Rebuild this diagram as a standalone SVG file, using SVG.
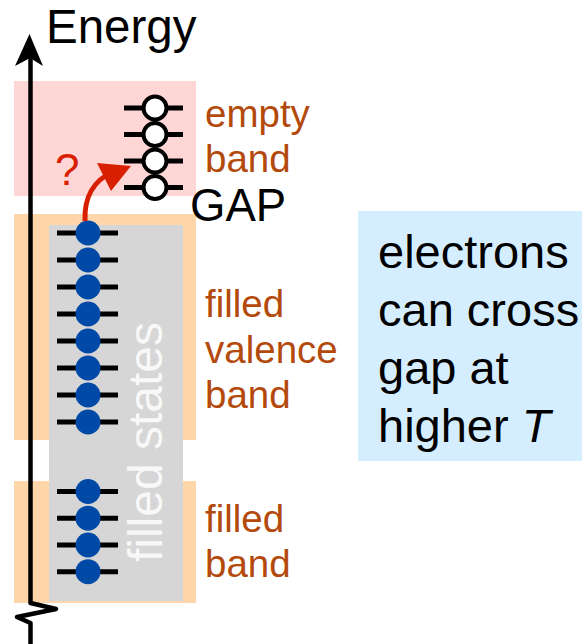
<svg xmlns="http://www.w3.org/2000/svg" width="582" height="644" viewBox="0 0 582 644">
  <defs>
    <style>
      text { font-family: "Liberation Sans", Arial, sans-serif; }
      .lbl { fill: #B34A0C; font-size: 38.5px; }
      .blk { fill: #000; font-size: 47px; }
      .lvl { stroke: #000; stroke-width: 5; }
      .fe { fill: #0049A6; }
      .ee { fill: #fff; stroke: #000; stroke-width: 4; }
    </style>
  </defs>
  <rect width="582" height="644" fill="#fff"/>

  <g id="empty-band">
    <rect x="14" y="81" width="182" height="115" fill="#FFD6D6"/>
    <g id="empty-levels">
      <line class="lvl" x1="124" y1="108" x2="183" y2="108"/>
      <line class="lvl" x1="124" y1="134.5" x2="183" y2="134.5"/>
      <line class="lvl" x1="124" y1="161" x2="183" y2="161"/>
      <line class="lvl" x1="124" y1="187.5" x2="183" y2="187.5"/>
      <circle class="ee" cx="155" cy="108" r="11.5"/>
      <circle class="ee" cx="155" cy="134.5" r="11.5"/>
      <circle class="ee" cx="155" cy="161" r="11.5"/>
      <circle class="ee" cx="155" cy="187.5" r="11.5"/>
    </g>
    <text class="lbl" x="205" y="127">empty</text>
    <text class="lbl" x="205" y="172">band</text>
  </g>

  <g id="valence-band">
    <rect x="14" y="214" width="182" height="226" fill="#FFD5AA"/>
  </g>
  <g id="lower-band">
    <rect x="14" y="481" width="182" height="122" fill="#FFD5AA"/>
  </g>

  <g id="filled-states">
    <rect x="49" y="225" width="134" height="376" fill="#D6D6D6"/>
    <text transform="translate(162,442) rotate(-90)" text-anchor="middle" font-size="48" fill="#F8F8F8">filled states</text>
  </g>

  <g id="valence-levels">
    <line class="lvl" x1="57" y1="233" x2="118" y2="233"/>
    <line class="lvl" x1="57" y1="260" x2="118" y2="260"/>
    <line class="lvl" x1="57" y1="287" x2="118" y2="287"/>
    <line class="lvl" x1="57" y1="314" x2="118" y2="314"/>
    <line class="lvl" x1="57" y1="341" x2="118" y2="341"/>
    <line class="lvl" x1="57" y1="368" x2="118" y2="368"/>
    <line class="lvl" x1="57" y1="395" x2="118" y2="395"/>
    <line class="lvl" x1="57" y1="422" x2="118" y2="422"/>
    <circle class="fe" cx="88" cy="233" r="12.5"/>
    <circle class="fe" cx="88" cy="260" r="12.5"/>
    <circle class="fe" cx="88" cy="287" r="12.5"/>
    <circle class="fe" cx="88" cy="314" r="12.5"/>
    <circle class="fe" cx="88" cy="341" r="12.5"/>
    <circle class="fe" cx="88" cy="368" r="12.5"/>
    <circle class="fe" cx="88" cy="395" r="12.5"/>
    <circle class="fe" cx="88" cy="422" r="12.5"/>
  </g>

  <g id="lower-levels">
    <line class="lvl" x1="57" y1="491.5" x2="118" y2="491.5"/>
    <line class="lvl" x1="57" y1="518.2" x2="118" y2="518.2"/>
    <line class="lvl" x1="57" y1="545" x2="118" y2="545"/>
    <line class="lvl" x1="57" y1="571.7" x2="118" y2="571.7"/>
    <circle class="fe" cx="88" cy="491.5" r="12.5"/>
    <circle class="fe" cx="88" cy="518.2" r="12.5"/>
    <circle class="fe" cx="88" cy="545" r="12.5"/>
    <circle class="fe" cx="88" cy="571.7" r="12.5"/>
  </g>

  <g id="labels">
    <text class="lbl" x="205" y="317">filled</text>
    <text class="lbl" x="205" y="363">valence</text>
    <text class="lbl" x="205" y="408">band</text>
    <text class="lbl" x="205" y="532">filled</text>
    <text class="lbl" x="205" y="577">band</text>
    <text class="blk" x="190" y="221" font-size="45" style="font-size:45.5px">GAP</text>
  </g>

  <g id="energy-axis">
    <polyline points="30.5,58 30.5,603 56,609 17,617 30.5,623 30.5,644" fill="none" stroke="#000" stroke-width="4.5" stroke-linejoin="round"/>
    <polygon points="29.5,34 43,66 30,58 15,66" fill="#000"/>
    <text class="blk" x="46" y="43" style="font-size:47.5px">Energy</text>
  </g>

  <g id="connectors">
    <path d="M85,221 C84,197 94,180 113,172" fill="none" stroke="#D82000" stroke-width="5"/>
    <polygon points="131,166 97,163 111,191" fill="#D82000"/>
    <text x="55" y="185" font-size="44" fill="#D82000">?</text>
  </g>

  <g id="note">
    <rect x="358" y="211" width="224" height="250" fill="#D5EEFF"/>
    <text class="blk" x="378" y="268">electrons</text>
    <text class="blk" x="378" y="326">can cross</text>
    <text class="blk" x="378" y="384">gap at</text>
    <text class="blk" x="378" y="442">higher <tspan font-style="italic">T</tspan></text>
  </g>
</svg>
